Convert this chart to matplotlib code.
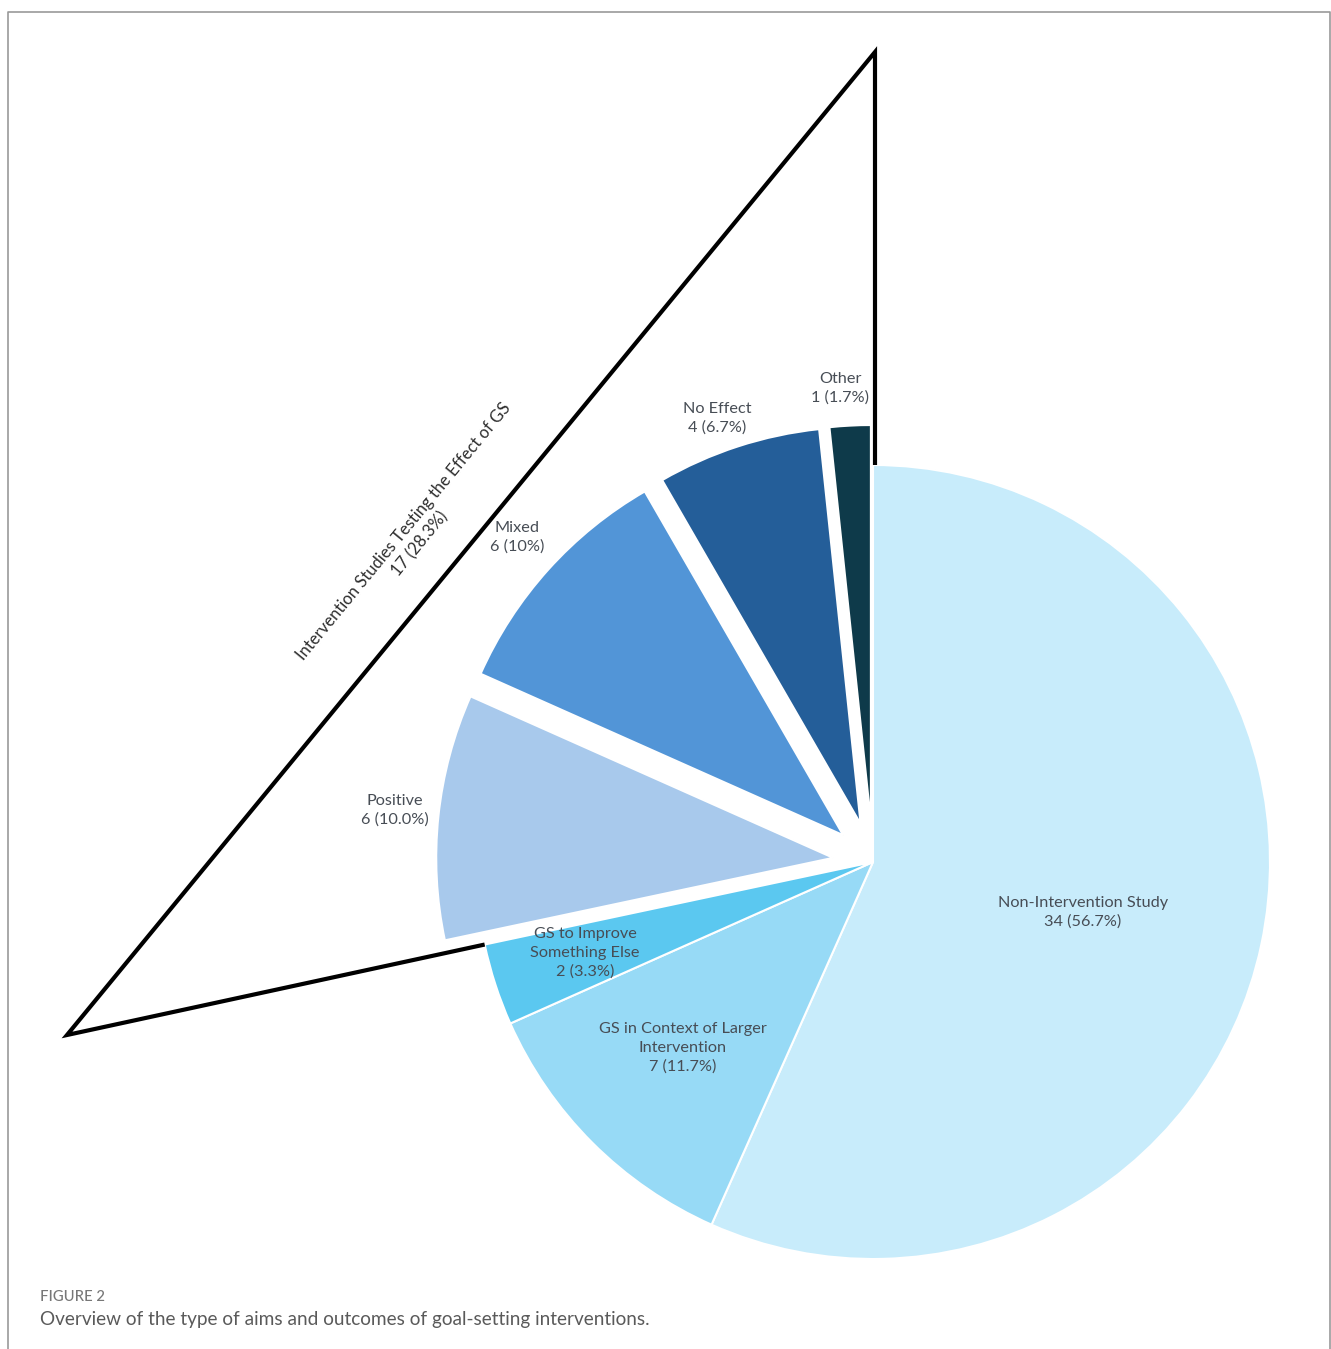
import matplotlib

matplotlib.use("Agg")

import numpy as np
import matplotlib.pyplot as plt

# ---------------------------------------------------------------------------
# Data (counts out of 60 studies)
# ---------------------------------------------------------------------------
categories = [
    "Non-Intervention Study",
    "GS in Context of Larger\nIntervention",
    "GS to Improve\nSomething Else",
    "Positive",
    "Mixed",
    "No Effect",
    "Other",
]
counts = [34, 7, 2, 6, 6, 4, 1]
pct_text = ["56.7%", "11.7%", "3.3%", "10.0%", "10%", "6.7%", "1.7%"]
in_group = [False, False, False, True, True, True, True]  # intervention studies
group_label = "Intervention Studies Testing the Effect of GS"
group_count = 17
group_pct = "28.3%"

colors = ["#C8ECFB", "#97DAF6", "#5BC8F0", "#A8C9EC", "#5295D7", "#245E99", "#0E3A4A"]

# ---------------------------------------------------------------------------
# Canvas in pixel units (y flipped so that 0 is the bottom)
# ---------------------------------------------------------------------------
W, H = 1331, 1349
fig = plt.figure(figsize=(W / 100, H / 100), dpi=100)
ax = fig.add_axes([0, 0, 1, 1])


def py(y):
    return H - y


cx, cy, r = 873, py(862), 397
explode = [40 if g else 0 for g in in_group]

wedges, _ = ax.pie(
    counts,
    colors=colors,
    startangle=90,
    counterclock=False,
    center=(cx, cy),
    radius=r,
    explode=explode,
    wedgeprops=dict(edgecolor="white", linewidth=1.5),
)
ax.set_xlim(0, W)
ax.set_ylim(0, H)
ax.set_aspect("equal")
ax.axis("off")

# slice labels
label_pos = [(1083, 912), (683, 1048), (585, 953), (395, 810), (517, 537), (717, 418), (840, 388)]
for name, n, p, (lx, ly) in zip(categories, counts, pct_text, label_pos):
    ax.text(lx, py(ly), f"{name}\n{n} ({p})", ha="center", va="center",
            fontsize=11.7, family="Lato", color="#474d55", linespacing=1.4)

# ---------------------------------------------------------------------------
# Bracket around the intervention slices
# ---------------------------------------------------------------------------
total = sum(counts)
start_frac = sum(c for c, g in zip(counts, in_group) if not g) / total
theta = np.deg2rad(90 - 360 * start_frac)
end_pt = (cx + r * np.cos(theta), cy + r * np.sin(theta))
top_pt = (cx + 2, cy + r)
apex = (875, py(52))
corner = (67, py(1035))
ax.plot([top_pt[0], apex[0], corner[0], end_pt[0]],
        [top_pt[1], apex[1], corner[1], end_pt[1]],
        color="black", lw=3, solid_joinstyle="miter", solid_capstyle="butt")

ang = np.degrees(np.arctan2(apex[1] - corner[1], apex[0] - corner[0]))
ax.text(412, py(538), f"{group_label}\n{group_count} ({group_pct})",
        rotation=ang, rotation_mode="anchor", ha="center", va="center",
        fontsize=12, family="Lato", color="#2e2e2e", linespacing=1.3)

# ---------------------------------------------------------------------------
# Frame and caption
# ---------------------------------------------------------------------------
ax.plot([8, 8, 1330, 1330], [0, py(12), py(12), 0], color="#999999", lw=1.2)
ax.text(40, py(1297), "FIGURE 2", ha="left", va="center",
        fontsize=10.7, family="Lato", color="#777777", fontweight="medium")
ax.text(40, py(1320), "Overview of the type of aims and outcomes of goal-setting interventions.",
        ha="left", va="center", fontsize=13.7, family="Lato", color="#5a5a5a")

fig.savefig("out.png", dpi=100, facecolor="white")
